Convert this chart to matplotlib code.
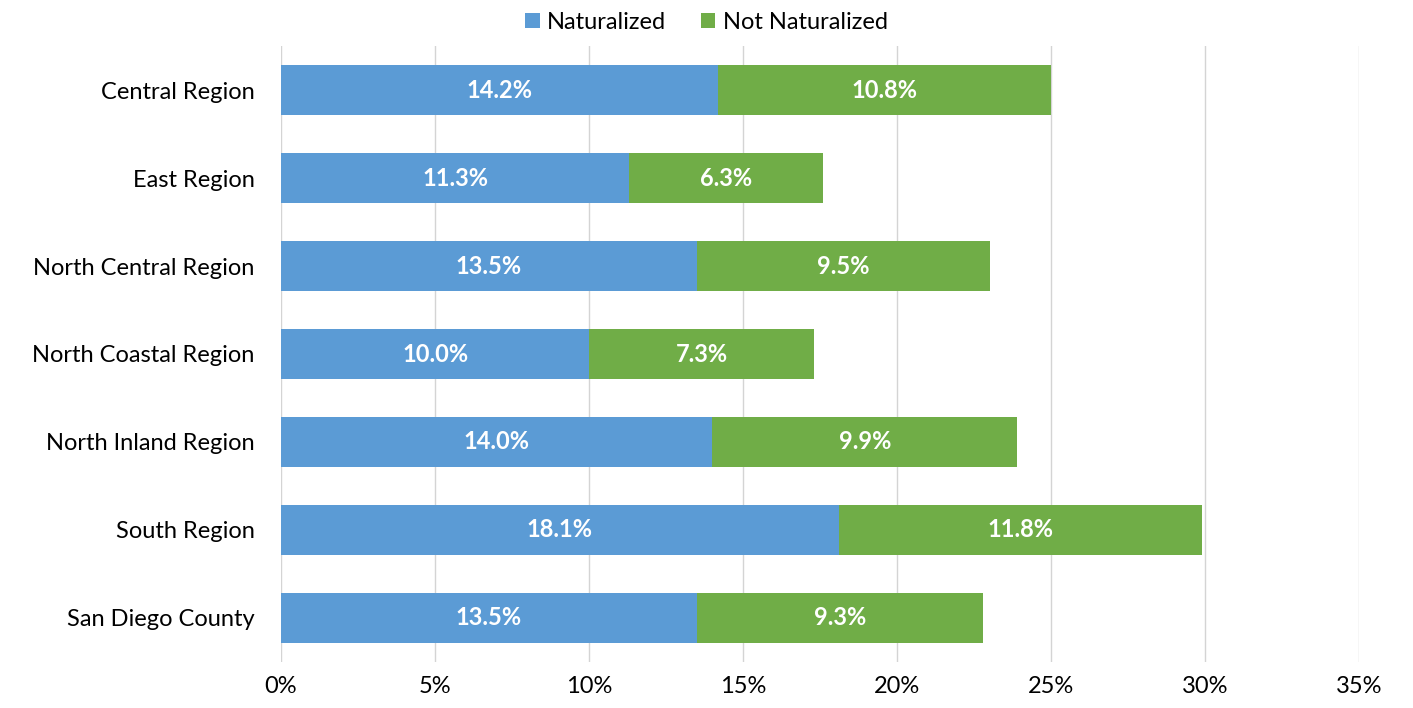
import matplotlib.pyplot as plt
import numpy as np
from matplotlib.ticker import FuncFormatter

categories = ["Central Region", "East Region", "North Central Region", "North Coastal Region",
              "North Inland Region", "South Region", "San Diego County"]
naturalized = [14.2, 11.3, 13.5, 10.0, 14.0, 18.1, 13.5]
not_naturalized = [10.8, 6.3, 9.5, 7.3, 9.9, 11.8, 9.3]
xticks = [0, 5, 10, 15, 20, 25, 30, 35]

plt.rcParams['font.family'] = ['Lato', 'DejaVu Sans']

fig = plt.figure(figsize=(14.13, 7.08), dpi=100)
ax = fig.add_axes([0.1989, 0.065, 0.763, 0.87])

y = np.arange(len(categories))
h = 0.57
b1 = ax.barh(y, naturalized, height=h, color='#5B9BD5', label='Naturalized', zorder=3)
b2 = ax.barh(y, not_naturalized, left=naturalized, height=h, color='#70AD47', label='Not Naturalized', zorder=3)

fs = 17
for i in range(len(categories)):
    ax.text(naturalized[i] / 2, y[i], f"{naturalized[i]:.1f}%", ha='center', va='center',
            color='white', fontweight='bold', fontsize=fs, zorder=4)
    ax.text(naturalized[i] + not_naturalized[i] / 2, y[i], f"{not_naturalized[i]:.1f}%", ha='center',
            va='center', color='white', fontweight='bold', fontsize=fs, zorder=4)

ax.set_ylim(len(categories) - 0.5, -0.5)
ax.set_xlim(0, 35)
ax.set_yticks(y)
ax.set_yticklabels(categories, fontsize=fs)
ax.set_xticks(xticks)
ax.xaxis.set_major_formatter(FuncFormatter(lambda v, p: f"{v:.0f}%"))
ax.tick_params(axis='x', labelsize=fs, length=0, pad=10)
ax.tick_params(axis='y', length=0, pad=19)
ax.grid(axis='x', color='#D4D4D4', linewidth=1, zorder=0)
for s in ax.spines.values():
    s.set_visible(False)

fig.legend(handles=[b1, b2], loc='upper center', bbox_to_anchor=(0.5, 1.0), ncol=2, frameon=False,
           fontsize=fs, handlelength=0.6, handleheight=0.6, handletextpad=0.3, columnspacing=1.5,
           borderaxespad=0.1)

fig.savefig('out.png', dpi=100)
